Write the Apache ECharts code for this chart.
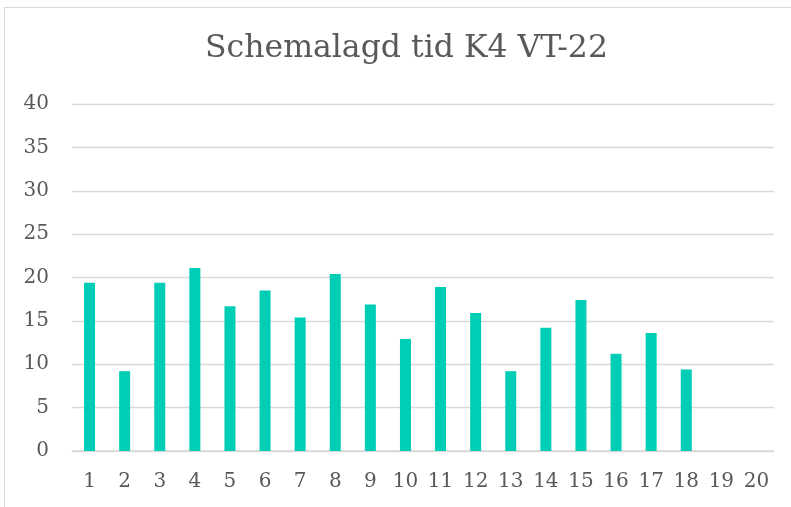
<!DOCTYPE html>
<html>
<head>
<meta charset="utf-8">
<script src="https://cdn.jsdelivr.net/npm/echarts@6/dist/echarts.min.js"></script>
<style>
	html, body { margin: 0; padding: 0; background: #fff; }
	#frame { position: absolute; left: 4px; top: 7px; width: 800px; height: 520px; border-top: 1px solid #d9d9d9; border-left: 1px solid #d9d9d9; }
	#main { position: absolute; left: 0; top: 0; width: 791px; height: 507px; }
</style>
</head>
<body>
<div id="frame"></div>
<div id="main"></div>
<script>
// 数据
var categories = ['1', '2', '3', '4', '5', '6', '7', '8', '9', '10', '11', '12', '13', '14', '15', '16', '17', '18', '19', '20'];
var hours = [19.4, 9.2, 19.4, 21.1, 16.7, 18.5, 15.4, 20.4, 16.9, 12.9, 18.9, 15.9, 9.2, 14.2, 17.4, 11.2, 13.6, 9.4, null, null];
var yTicks = [0, 5, 10, 15, 20, 25, 30, 35, 40];

var textColor = '#595959';
var fontName = 'DejaVu Serif';

var myChart = echarts.init(document.getElementById('main'), null, { renderer: 'canvas' });

var option = {
	animation: false,
	title: {
		text: 'Schemalagd tid K4 VT-22',
		left: 200,
		top: 28,
		textStyle: {
			color: textColor,
			fontFamily: fontName,
			fontWeight: 'normal',
			fontSize: 31.5
		}
	},
	grid: {
		left: 72,
		right: 17,
		top: 104,
		bottom: 56
	},
	xAxis: {
		type: 'category',
		data: categories,
		axisTick: { show: false },
		axisLine: { lineStyle: { color: '#d9d9d9', width: 1.5 } },
		axisLabel: {
			color: textColor,
			fontFamily: fontName,
			fontSize: 20,
			margin: 21,
			interval: 0
		}
	},
	yAxis: {
		type: 'value',
		min: yTicks[0],
		max: yTicks[yTicks.length - 1],
		interval: 5,
		axisLine: { show: false },
		axisTick: { show: false },
		splitLine: { lineStyle: { color: '#d9d9d9', width: 1.3 } },
		axisLabel: {
			color: textColor,
			fontFamily: fontName,
			fontSize: 20,
			margin: 23
		}
	},
	series: [{
		name: 'Schemalagd tid',
		type: 'bar',
		data: hours,
		barWidth: 11,
		itemStyle: { color: '#00cdb5' }
	}]
};

myChart.setOption(option);
</script>
</body>
</html>
